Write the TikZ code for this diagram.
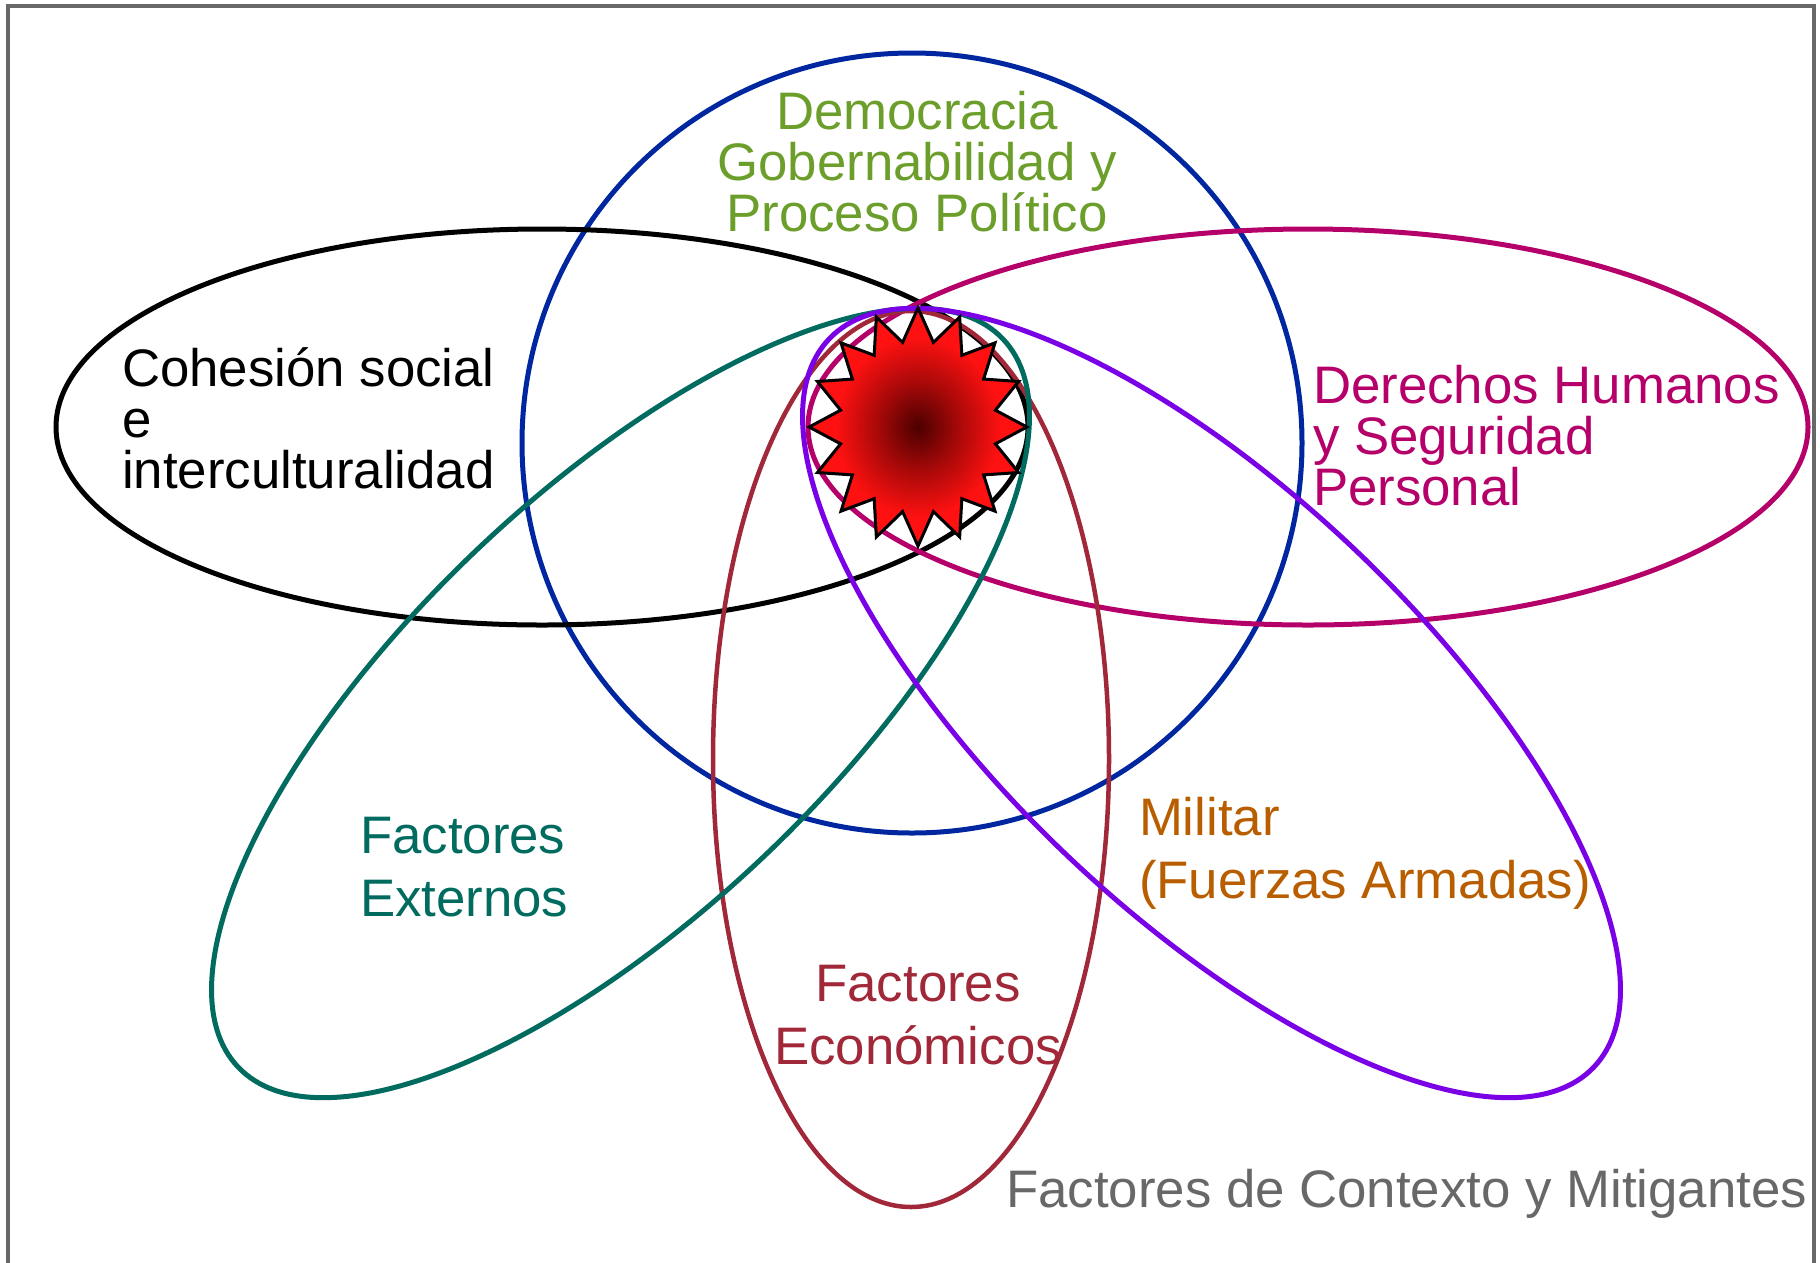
\documentclass[tikz,border=0pt]{standalone}
\usepackage{fontspec}
\setmainfont{Liberation Sans}
\usetikzlibrary{shapes.geometric}
\definecolor{cframe}{RGB}{104,104,104}
\definecolor{cblue}{RGB}{0,38,160}
\definecolor{cmagenta}{RGB}{181,0,106}
\definecolor{cbrown}{RGB}{160,40,56}
\definecolor{cteal}{RGB}{0,107,94}
\definecolor{cpurple}{RGB}{122,0,230}
\definecolor{cgreen}{RGB}{107,158,42}
\definecolor{corange}{RGB}{184,94,0}
\definecolor{cdark}{RGB}{75,0,0}
\definecolor{cred}{RGB}{255,17,17}
\pgfdeclareradialshading{coreshade}{\pgfpoint{0bp}{0bp}}{color(0bp)=(cdark); color(9bp)=(cred!50!cdark); color(19bp)=(cred); color(50bp)=(cred)}
\begin{document}
\begin{tikzpicture}[x=1pt,y=-1pt,
	ring/.style={line width=5pt},
	lbl/.style={inner sep=0,outer sep=0,font=\fontsize{52.8}{51}\selectfont},
	lblwide/.style={inner sep=0,outer sep=0,font=\fontsize{52.8}{63}\selectfont}]
	\useasboundingbox (0,0) rectangle (1820,1262);
	\draw[cframe,line width=4pt] (8,6) rectangle (1814,1280);
	% the five petals and the circle
	\draw[ring,cblue] (912,443) circle [radius=390];
	\draw[ring,black] (542,427) ellipse [x radius=486, y radius=198];
	\draw[ring,cmagenta] (1308,427) ellipse [x radius=500, y radius=198];
	\draw[ring,cbrown,line width=4.5pt] (911,759) ellipse [x radius=198, y radius=448];
	\draw[ring,cteal,rotate around={43.6:(620.5,703)}] (620.5,703) ellipse [x radius=528, y radius=210];
	\draw[ring,cpurple,rotate around={-43.6:(1211.5,703)}] (1211.5,703) ellipse [x radius=528, y radius=210];
	% centre
	\begin{scope}[shift={(918,427)},xscale=0.915]
		\node[star,star points=16,star point ratio=1.38,minimum size=238pt,inner sep=0,outer sep=0,draw=black,line width=3pt,shading=coreshade,transform shape] (core) at (0,0) {};
	\end{scope}
	% labels
	\node[lbl,cgreen,align=center,anchor=base] (demo) at (917,231) {Democracia\\Gobernabilidad y\\Proceso Político};
	\node[lbl,black,align=left,anchor=base west] (cohesion) at (122,488) {Cohesión social\\e\\interculturalidad};
	\node[lbl,cmagenta,align=left,anchor=base west] (derechos) at (1313,505) {Derechos Humanos\\y Seguridad\\Personal};
	\node[lblwide,cteal,align=left,anchor=base west] (externos) at (360,916) {Factores\\Externos};
	\node[lblwide,cbrown,align=center,anchor=base] (economicos) at (918,1064) {Factores\\Económicos};
	\node[lblwide,corange,align=left,anchor=base west] (militar) at (1139,898) {Militar\\(Fuerzas Armadas)};
	\node[lbl,cframe,anchor=base west] (contexto) at (1006,1207) {Factores de Contexto y Mitigantes};
\end{tikzpicture}
\end{document}
